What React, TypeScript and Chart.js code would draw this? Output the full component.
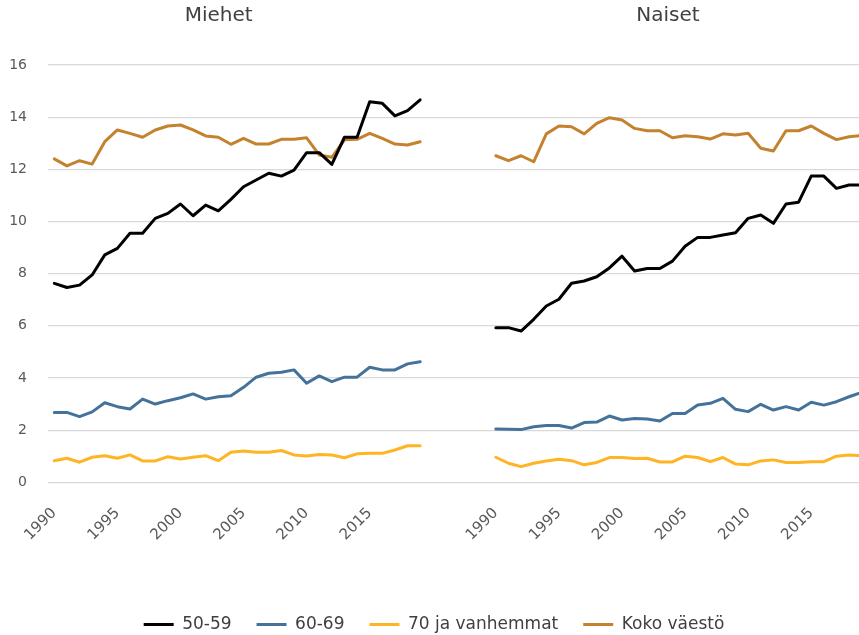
import React, { useEffect, useRef } from "react";
import { Chart, registerables } from "chart.js";

Chart.register(...registerables);

// ---- Data ----
const YEARS = [
  "1990", "1991", "1992", "1993", "1994", "1995", "1996", "1997", "1998", "1999",
  "2000", "2001", "2002", "2003", "2004", "2005", "2006", "2007", "2008", "2009",
  "2010", "2011", "2012", "2013", "2014", "2015", "2016", "2017", "2018", "2019",
];

const PANEL_TITLES = ["Miehet", "Naiset"];
const SERIES_NAMES = ["50-59", "60-69", "70 ja vanhemmat", "Koko väestö"];
const Y_TICKS = [0, 2, 4, 6, 8, 10, 12, 14, 16];

// Miehet
const MEN_50_59 = [
  7.63, 7.47, 7.56, 7.95, 8.72, 8.97, 9.55, 9.55, 10.12, 10.31,
  10.67, 10.22, 10.63, 10.41, 10.85, 11.33, 11.59, 11.85, 11.74, 11.97,
  12.64, 12.64, 12.19, 13.23, 13.23, 14.59, 14.53, 14.05, 14.25, 14.66,
];
const MEN_60_69 = [
  2.68, 2.68, 2.52, 2.7, 3.05, 2.9, 2.81, 3.19, 3.0, 3.13,
  3.24, 3.39, 3.19, 3.28, 3.32, 3.64, 4.03, 4.18, 4.22, 4.31,
  3.8, 4.08, 3.86, 4.03, 4.03, 4.41, 4.31, 4.31, 4.54, 4.62,
];
const MEN_70_PLUS = [
  0.83, 0.92, 0.77, 0.96, 1.02, 0.92, 1.05, 0.82, 0.82, 0.98,
  0.89, 0.96, 1.02, 0.83, 1.15, 1.2, 1.15, 1.15, 1.22, 1.05,
  1.01, 1.07, 1.05, 0.94, 1.09, 1.11, 1.11, 1.24, 1.4, 1.4,
];
const MEN_ALL = [
  12.4, 12.13, 12.33, 12.2, 13.06, 13.51, 13.38, 13.23, 13.51, 13.66,
  13.7, 13.51, 13.28, 13.23, 12.96, 13.19, 12.97, 12.97, 13.15, 13.15,
  13.21, 12.55, 12.46, 13.13, 13.15, 13.38, 13.19, 12.97, 12.93, 13.06,
];

// Naiset
const WOMEN_50_59 = [
  5.93, 5.93, 5.8, 6.25, 6.76, 7.02, 7.63, 7.72, 7.88, 8.22,
  8.67, 8.1, 8.2, 8.2, 8.48, 9.05, 9.39, 9.39, 9.48, 9.57,
  10.12, 10.25, 9.93, 10.67, 10.74, 11.74, 11.74, 11.27, 11.4, 11.4,
];
const WOMEN_60_69 = [
  2.04, 2.03, 2.02, 2.13, 2.18, 2.18, 2.08, 2.29, 2.31, 2.54,
  2.39, 2.45, 2.43, 2.35, 2.64, 2.64, 2.96, 3.03, 3.22, 2.8,
  2.71, 2.99, 2.77, 2.9, 2.77, 3.07, 2.96, 3.09, 3.28, 3.45,
];
const WOMEN_70_PLUS = [
  0.96, 0.73, 0.6, 0.73, 0.82, 0.88, 0.83, 0.67, 0.76, 0.95,
  0.95, 0.91, 0.92, 0.78, 0.78, 1.0, 0.95, 0.79, 0.95, 0.7,
  0.67, 0.82, 0.86, 0.76, 0.76, 0.79, 0.79, 1.0, 1.05, 1.02,
];
const WOMEN_ALL = [
  12.52, 12.33, 12.52, 12.29, 13.36, 13.66, 13.63, 13.36, 13.76, 13.98,
  13.89, 13.57, 13.48, 13.48, 13.21, 13.29, 13.25, 13.16, 13.36, 13.32,
  13.38, 12.81, 12.7, 13.48, 13.48, 13.66, 13.38, 13.14, 13.25, 13.3,
];

// ---- Styling / layout constants ----
const COLORS = ["#000000", "#45729a", "#ffb424", "#c4822e"];
const GAP = 5; // empty categories between the two panels
const FONT = '"DejaVu Sans", sans-serif';
const CANVAS_W = 873;
const CANVAS_H = 635;
const TITLE_POS = [
  { x: 218.7, y: 16 },
  { x: 668, y: 16 },
];

const gapFill = <T,>(v: T): T[] => Array(GAP).fill(v);

const LABELS = [...YEARS, ...gapFill(""), ...YEARS];
const SERIES = [
  [MEN_50_59, WOMEN_50_59],
  [MEN_60_69, WOMEN_60_69],
  [MEN_70_PLUS, WOMEN_70_PLUS],
  [MEN_ALL, WOMEN_ALL],
];

const panelTitles = {
  id: "panelTitles",
  afterDraw(chart: any) {
    const ctx = chart.ctx;
    ctx.save();
    ctx.font = `20px ${FONT}`;
    ctx.fillStyle = "#404040";
    ctx.textAlign = "center";
    ctx.textBaseline = "middle";
    PANEL_TITLES.forEach((t, i) => ctx.fillText(t, TITLE_POS[i].x, TITLE_POS[i].y));
    ctx.restore();
  },
};

export default function App() {
  const ref = useRef<HTMLCanvasElement | null>(null);

  useEffect(() => {
    if (!ref.current) return;
    const chart = new Chart(ref.current, {
      type: "line",
      data: {
        labels: LABELS,
        datasets: SERIES.map(([men, women], i) => ({
          label: SERIES_NAMES[i],
          data: [...men, ...gapFill(null), ...women],
          borderColor: COLORS[i],
          backgroundColor: COLORS[i],
          borderWidth: 3,
          pointRadius: 0,
          pointHoverRadius: 0,
          tension: 0,
          spanGaps: false,
          borderJoinStyle: "round" as const,
          borderCapStyle: "round" as const,
        })),
      },
      options: {
        responsive: false,
        animation: false,
        layout: { padding: { top: 65, left: 0, right: 5, bottom: -8 } },
        plugins: {
          legend: {
            position: "bottom",
            labels: {
              font: { family: FONT, size: 17 },
              color: "#404040",
              boxWidth: 30,
              boxHeight: 3,
              padding: 25,
              generateLabels: (chart: any) =>
                Chart.defaults.plugins.legend.labels
                  .generateLabels(chart)
                  .map((item: any) => ({ ...item, lineWidth: 0 })),
            },
          },
          tooltip: { enabled: false },
          title: { display: false },
        },
        scales: {
          x: {
            type: "category",
            offset: true,
            grid: { display: false, drawTicks: false },
            border: { display: false },
            ticks: {
              autoSkip: false,
              minRotation: 45,
              maxRotation: 45,
              padding: 22,
              color: "#595959",
              font: { family: FONT, size: 15 },
              callback: function (this: any, value: any) {
                const l = this.getLabelForValue(value);
                return l && Number(l) % 5 === 0 ? l : "";
              },
            },
            afterFit: (scale: any) => {
              scale.height = 108.7;
              scale.paddingRight = 0;
              scale.paddingLeft = 0;
            },
          },
          y: {
            min: 0,
            max: 16,
            afterBuildTicks: (scale: any) => {
              scale.ticks = Y_TICKS.map((v) => ({ value: v }));
            },
            grid: { color: "#d9d9d9", lineWidth: 1.2, drawTicks: false },
            border: { display: false },
            ticks: {
              padding: 21,
              color: "#595959",
              font: { family: FONT, size: 14 },
            },
            afterFit: (scale: any) => {
              scale.width = 48;
            },
          },
        },
      },
      plugins: [panelTitles],
    });
    return () => chart.destroy();
  }, []);

  return (
    <div
      style={{
        position: "absolute",
        left: 0,
        top: 0,
        width: 859,
        height: 635,
        overflow: "hidden",
        background: "#ffffff",
      }}
    >
      <canvas
        ref={ref}
        width={CANVAS_W}
        height={CANVAS_H}
        style={{ display: "block", width: CANVAS_W, height: CANVAS_H }}
      />
    </div>
  );
}
